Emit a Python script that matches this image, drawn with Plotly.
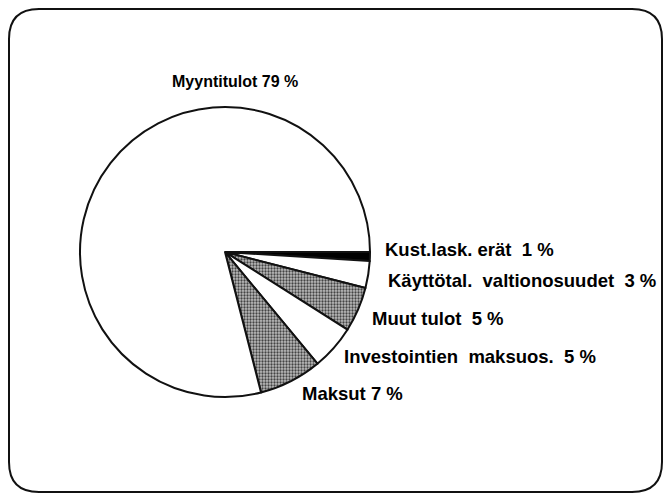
import plotly.graph_objects as go

# Tulorakenne (%), alkaen klo 3 suunnasta myötäpäivään
categories = ["Kust.lask. erät", "Käyttötal. valtionosuudet", "Muut tulot",
              "Investointien maksuos.", "Maksut", "Myyntitulot"]
shares = [1, 3, 5, 5, 7, 79]
label_texts = ["Kust.lask. erät  1 %", "Käyttötal.  valtionosuudet  3 %", "Muut tulot  5 %",
               "Investointien  maksuos.  5 %", "Maksut 7 %", "Myyntitulot 79 %"]

slice_colors = ["#000000", "#ffffff", "#b0b0b0", "#ffffff", "#b0b0b0", "#ffffff"]
slice_patterns = ["", "", ".", "", ".", ""]

W, H = 666, 495


def px(x):
    return x / W


def py(y):
    return 1 - y / H


fig = go.Figure(go.Pie(
    labels=categories,
    values=shares,
    sort=False,
    direction="clockwise",
    rotation=90,
    textinfo="none",
    hoverinfo="label+percent",
    marker=dict(colors=slice_colors,
                line=dict(color="#111111", width=2),
                pattern=dict(shape=slice_patterns, fgcolor="#444444",
                             bgcolor="#bdbdbd", size=3, solidity=0.45)),
    domain=dict(x=[px(80), px(370)], y=[py(397), py(107)]),
))

# label positions (pixels from top-left of the page): x, y, anchor, size
label_pos = [(383, 249, "left", 18.5), (386, 280, "left", 18.5), (370, 318, "left", 18.5),
             (342, 356, "left", 18.5), (300, 393, "left", 18.5), (235, 82, "center", 16)]

for txt, (lx, ly, anc, fs) in zip(label_texts, label_pos):
    fig.add_annotation(x=px(lx), y=py(ly), xref="paper", yref="paper",
                       text=txt, showarrow=False, xanchor=anc, yanchor="middle",
                       font=dict(family="Liberation Sans, Arial, sans-serif",
                                 size=fs, color="#000000", weight="bold"))

# rounded frame
x0, y0, x1, y1, r = px(9), py(492), px(662), py(9), 30
rx, ry = r / W, r / H
path = (f"M {x0 + rx},{y1} L {x1 - rx},{y1} Q {x1},{y1} {x1},{y1 - ry} "
        f"L {x1},{y0 + ry} Q {x1},{y0} {x1 - rx},{y0} "
        f"L {x0 + rx},{y0} Q {x0},{y0} {x0},{y0 + ry} "
        f"L {x0},{y1 - ry} Q {x0},{y1} {x0 + rx},{y1} Z")
fig.add_shape(type="path", path=path, xref="paper", yref="paper",
              line=dict(color="#111111", width=2))

fig.update_layout(
    width=W, height=H,
    margin=dict(l=0, r=0, t=0, b=0),
    paper_bgcolor="white",
    plot_bgcolor="white",
    showlegend=False,
)

fig.write_html("out.html", config={"displayModeBar": False},
               post_script="document.body.style.margin='0';document.body.style.overflow='hidden';")
